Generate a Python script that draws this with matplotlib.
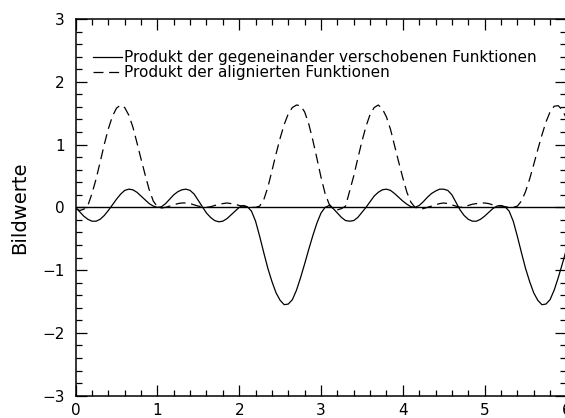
import numpy as np
import matplotlib
matplotlib.use("Agg")
import matplotlib.pyplot as plt
from matplotlib.ticker import MultipleLocator

x = np.round(np.arange(0, 6.001, 0.05), 2)

verschoben = [
    0.00, -0.07, -0.14, -0.19, -0.22, -0.22, -0.19, -0.13, -0.05, 0.04,
    0.13, 0.21, 0.27, 0.29, 0.28, 0.24, 0.18, 0.12, 0.06, 0.02,
    0.00, 0.01, 0.06, 0.13, 0.20, 0.25, 0.28, 0.29, 0.27, 0.21,
    0.11, 0.01, -0.09, -0.16, -0.21, -0.23, -0.22, -0.18, -0.12, -0.06,
    0.00, 0.03, 0.01, -0.06, -0.22, -0.46, -0.72, -0.97, -1.18, -1.36,
    -1.48, -1.55, -1.54, -1.47, -1.32, -1.12, -0.90, -0.67, -0.45, -0.25,
    -0.09, 0.00, 0.03, -0.02, -0.09, -0.16, -0.21, -0.22, -0.21, -0.16,
    -0.08, 0.00, 0.09, 0.18, 0.24, 0.28, 0.29, 0.27, 0.22, 0.16,
    0.10, 0.05, 0.01, 0.00, 0.03, 0.09, 0.16, 0.22, 0.26, 0.29,
    0.29, 0.27, 0.20, 0.08, -0.04, -0.13, -0.19, -0.22, -0.22, -0.19,
    -0.14, -0.08, -0.02, 0.02, 0.03, 0.01, -0.06, -0.22, -0.46, -0.72,
    -0.97, -1.18, -1.36, -1.48, -1.55, -1.54, -1.47, -1.32, -1.12, -0.90,
    -0.67,
]

aligniert = [
    -0.02, -0.05, -0.03, 0.03, 0.22, 0.45, 0.72, 1.00, 1.25, 1.45,
    1.58, 1.63, 1.59, 1.47, 1.28, 1.03, 0.77, 0.52, 0.28, 0.10,
    0.01, -0.01, 0.00, 0.02, 0.04, 0.06, 0.07, 0.07, 0.06, 0.04,
    0.02, 0.01, 0.00, 0.01, 0.03, 0.05, 0.06, 0.07, 0.06, 0.05,
    0.03, 0.02, 0.01, 0.00, 0.00, 0.02, 0.12, 0.32, 0.58, 0.85,
    1.10, 1.32, 1.49, 1.59, 1.63, 1.62, 1.52, 1.33, 1.07, 0.78,
    0.48, 0.22, 0.05, -0.02, -0.04, -0.02, 0.02, 0.26, 0.50, 0.78,
    1.05, 1.29, 1.48, 1.59, 1.63, 1.57, 1.44, 1.24, 0.98, 0.72,
    0.47, 0.24, 0.08, 0.00, -0.02, -0.02, 0.00, 0.02, 0.04, 0.06,
    0.07, 0.06, 0.04, 0.02, 0.00, 0.01, 0.03, 0.05, 0.06, 0.07,
    0.07, 0.06, 0.04, 0.03, 0.02, 0.01, 0.00, 0.00, 0.02, 0.10,
    0.25, 0.45, 0.68, 0.92, 1.15, 1.36, 1.52, 1.61, 1.62, 1.55,
    1.42,
]

labels = ["Produkt der gegeneinander verschobenen Funktionen",
          "Produkt der alignierten Funktionen"]

plt.rcParams['font.family'] = ['DejaVu Sans']

fig = plt.figure(figsize=(5.65, 4.18), dpi=100)
ax = fig.add_axes([0.1338, 0.0533, 0.8687, 0.9012])

ax.axhline(0, color='black', lw=1.0)
ax.plot(x, verschoben, color='black', lw=0.9, label=labels[0])
ax.plot(x, aligniert, color='black', lw=0.9, linestyle=(0, (8, 4.5)), label=labels[1])

ax.set_xlim(0, 6)
ax.set_ylim(-3, 3)
ax.xaxis.set_major_locator(MultipleLocator(1))
ax.xaxis.set_minor_locator(MultipleLocator(0.2))
ax.yaxis.set_major_locator(MultipleLocator(1))
ax.yaxis.set_minor_locator(MultipleLocator(0.2))
ax.tick_params(which='both', direction='in', top=True, right=True, width=0.9)
ax.tick_params(which='major', length=8, labelsize=11)
ax.tick_params(axis='x', which='major', pad=5)
ax.tick_params(axis='y', which='major', pad=8)
ax.tick_params(which='minor', length=4)
for sp in ax.spines.values():
    sp.set_linewidth(1.1)

ax.set_ylabel('Bildwerte', fontsize=14)
ax.yaxis.set_label_coords(-0.094, 0.5)

ax.legend(loc='upper left', bbox_to_anchor=(0.036, 0.917), frameon=False,
          fontsize=11, handlelength=1.85, handletextpad=0.15,
          labelspacing=0.0, borderpad=0, borderaxespad=0)

fig.savefig('out.png', dpi=100)
